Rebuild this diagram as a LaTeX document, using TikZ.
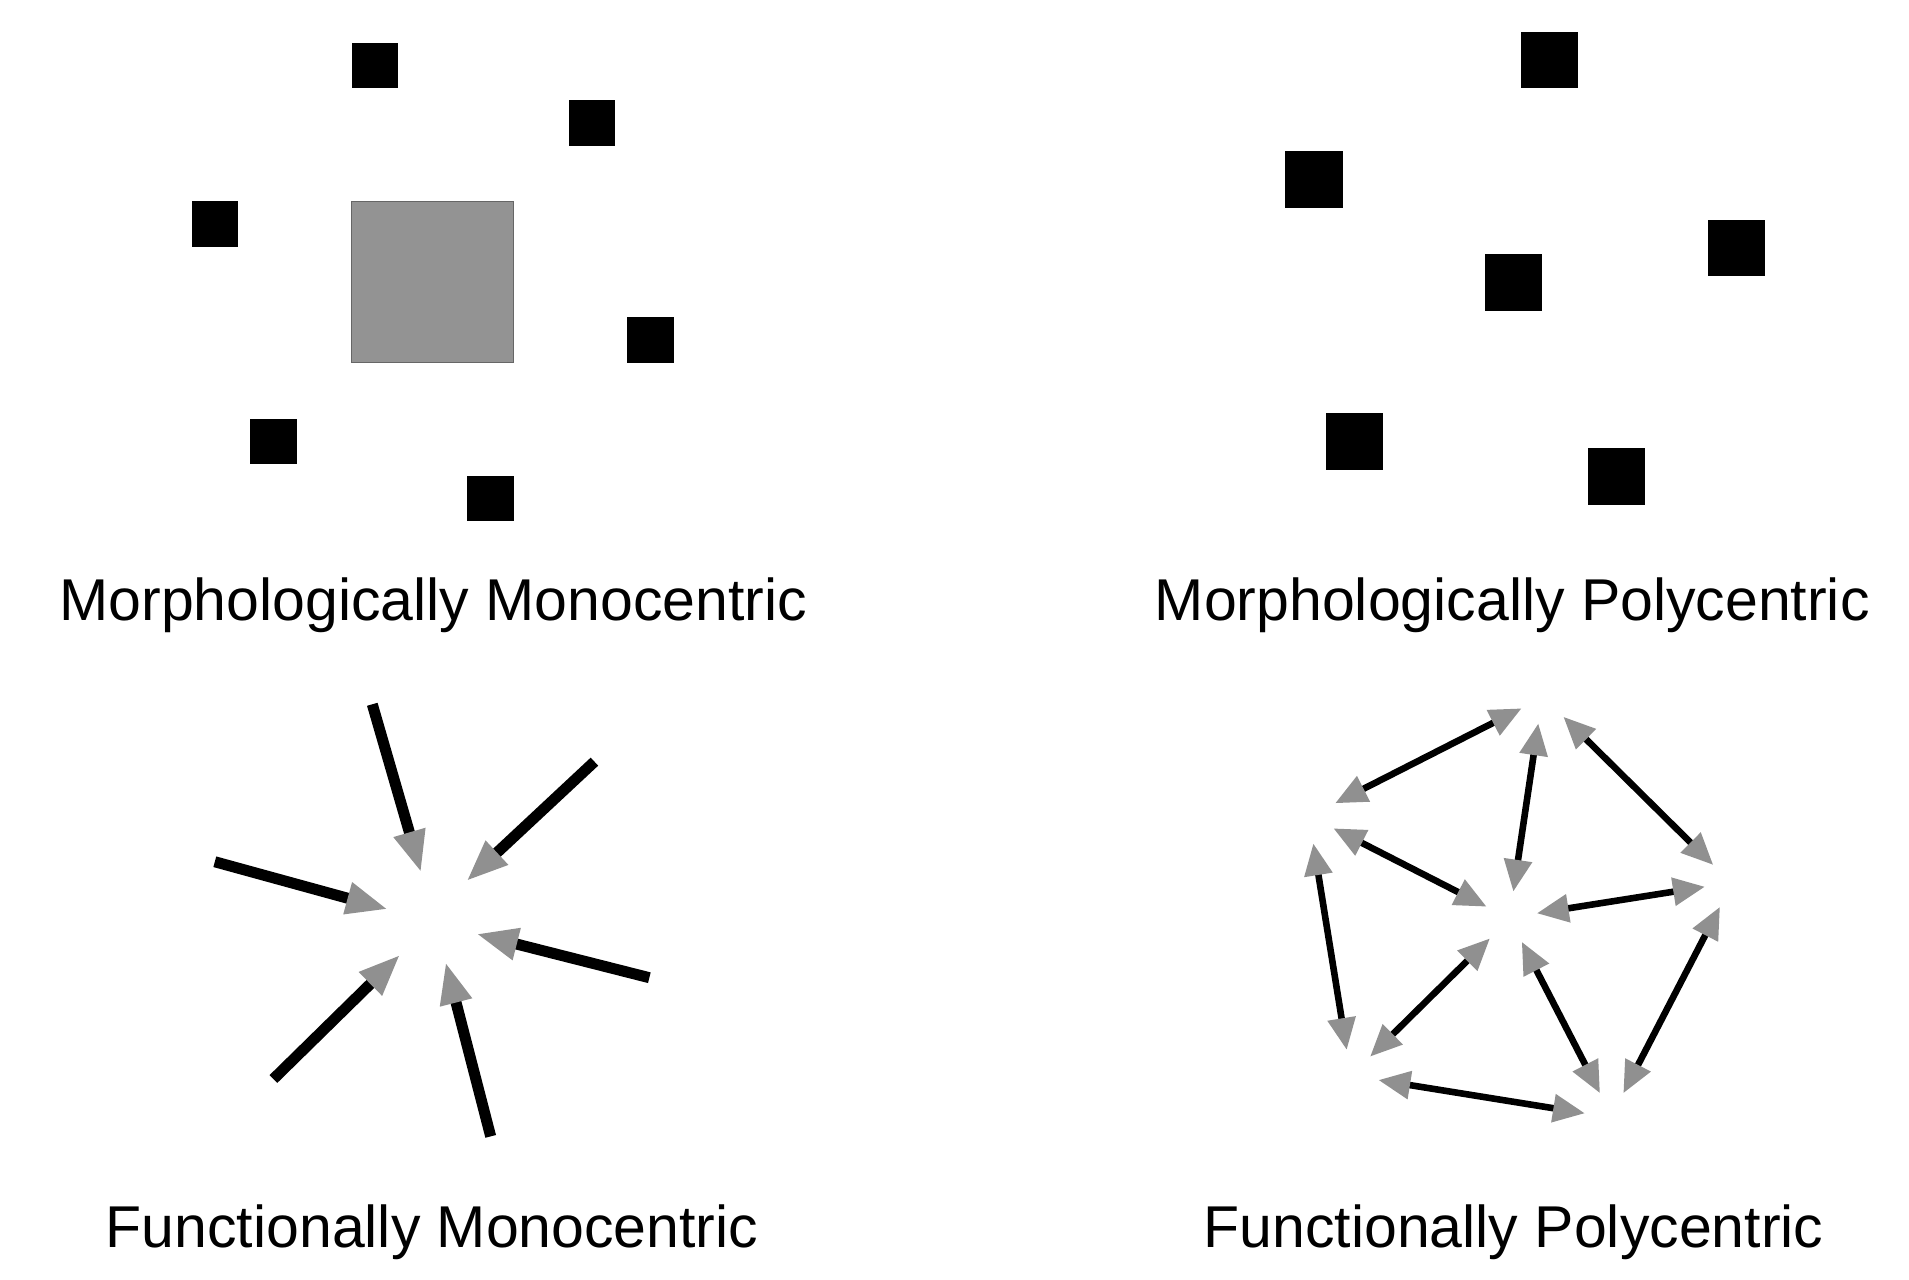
\documentclass[tikz,border=0pt]{standalone}
\usepackage{fontspec}
\setmainfont{Liberation Sans}
\usetikzlibrary{arrows.meta}
\definecolor{sq}{HTML}{939393}
\definecolor{tip}{HTML}{909090}
\begin{document}
\begin{tikzpicture}[x=0.5pt,y=-0.5pt,
  lab/.style={anchor=base,inner sep=0pt,font=\fontsize{29.5pt}{32pt}\selectfont},
  mono/.style={line width=5.5pt,-{Triangle[length=21pt,width=15pt,color=tip]}},
  poly/.style={line width=3.3pt,{Triangle[length=16pt,width=13.5pt,color=tip]}-{Triangle[length=16pt,width=13.5pt,color=tip]}}]
\useasboundingbox (0,0) rectangle (1909,1279);
\begin{scope}[scale=1.2206]
% monocentric squares
\fill (288,35) rectangle (326,72);
\fill (466,82) rectangle (504,120);
\fill (157,165) rectangle (195,202);
\filldraw[fill=sq,draw=black!60,line width=0.4pt] (288,165) rectangle (421,297);
\fill (514,260) rectangle (552,297);
\fill (205,343) rectangle (243,380);
\fill (383,390) rectangle (421,427);
% polycentric squares
\fill (1246,26) rectangle (1293,72);
\fill (1053,124) rectangle (1100,170);
\fill (1399,180) rectangle (1446,226);
\fill (1217,208) rectangle (1263,255);
\fill (1086,338) rectangle (1133,385);
\fill (1301,367) rectangle (1348,414);
\node[lab] (t1) at (355,508) {Morphologically Monocentric};
\node[lab] (t2) at (1239,508) {Morphologically Polycentric};
\node[lab] (t3) at (354,1022) {Functionally Monocentric};
\node[lab] (t4) at (1240,1022) {Functionally Polycentric};
% functional mono
\coordinate (m1a) at (305,577); \coordinate (m1b) at (345,715);
\coordinate (m2a) at (487,624); \coordinate (m2b) at (382,722);
\coordinate (m3a) at (176,706); \coordinate (m3b) at (318,745);
\coordinate (m4a) at (532,801); \coordinate (m4b) at (390,765);
\coordinate (m5a) at (224,884); \coordinate (m5b) at (328,782);
\coordinate (m6a) at (402,931); \coordinate (m6b) at (365,788);
\end{scope}
\foreach \i in {1,...,6} \draw[mono] (m\i a) -- (m\i b);
% functional poly (actual px)
\coordinate (p1a) at (1521.7,708.3); \coordinate (p1b) at (1335,803.3);
\coordinate (p2a) at (1538.3,723.3); \coordinate (p2b) at (1513.3,891.7);
\coordinate (p3a) at (1563.3,716.7); \coordinate (p3b) at (1713.3,865);
\coordinate (p4a) at (1333.3,828.3); \coordinate (p4b) at (1486.7,906.7);
\coordinate (p5a) at (1313.3,843.3); \coordinate (p5b) at (1346.7,1050);
\coordinate (p6a) at (1536.7,913.3); \coordinate (p6b) at (1705,886.7);
\coordinate (p7a) at (1490,938.3); \coordinate (p7b) at (1370,1056.7);
\coordinate (p8a) at (1521.7,941.7); \coordinate (p8b) at (1600,1093.3);
\coordinate (p9a) at (1720,906.7); \coordinate (p9b) at (1623.3,1093.3);
\coordinate (p10a) at (1378.3,1080); \coordinate (p10b) at (1585,1113.3);
\foreach \i in {1,...,10} \draw[poly] (p\i a) -- (p\i b);
\end{tikzpicture}
\end{document}
